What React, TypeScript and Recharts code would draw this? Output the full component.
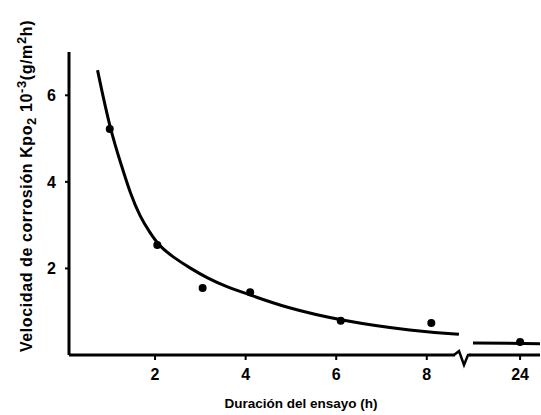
import { ComposedChart, Line, Scatter, XAxis, YAxis, ReferenceDot, Label } from "recharts";

// fitted curve (hours, 10^-3 g/m2h)
const curveHours = [0.73, 1.0, 1.27, 1.45, 1.67, 1.89, 2.09, 2.4, 2.77, 3.15, 3.59, 4.1, 4.84, 6.11, 7.73, 8.71];
const curveRate = [6.58, 5.24, 4.34, 3.74, 3.19, 2.82, 2.52, 2.26, 2.01, 1.78, 1.57, 1.39, 1.11, 0.79, 0.55, 0.48];

// curve piece after the axis break
const tailHours = [13.6, 28.4];
const tailRate = [0.28, 0.26];

// measured points
const measHours = [1.0, 2.05, 3.05, 4.1, 6.1, 8.1, 24];
const measRate = [5.22, 2.54, 1.55, 1.45, 0.79, 0.74, 0.3];

const xTickHours = [2, 4, 6, 8, 24];
const yTicks = [2, 4, 6];

// broken x axis: linear up to the break, then compressed around 24 h
const BREAK_AT = 8.8;
const pos = (h: number) => (h <= BREAK_AT ? h : 10.06 + (h - 24) * 0.1);

const curve = curveHours.map((h, i) => ({ x: pos(h), y: curveRate[i] }));
const tail = tailHours.map((h, i) => ({ x: pos(h), y: tailRate[i] }));
const points = measHours.map((h, i) => ({ x: pos(h), y: measRate[i] }));
const xTicks = xTickHours.map(pos);

const FONT = "'Liberation Sans', Arial, sans-serif";
const tickStyle = { fontSize: 16, fontWeight: 700, fill: "#000", fontFamily: FONT };

function BreakMark(props: any) {
  const { cx, cy } = props;
  return (
    <g>
      <rect x={cx - 8} y={cy - 3} width={14} height={6} fill="#fff" />
      <path
        d={`M${cx - 9},${cy} L${cx - 4},${cy - 4} L${cx + 1},${cy + 10} L${cx + 5},${cy} L${cx + 8},${cy}`}
        fill="none"
        stroke="#000"
        strokeWidth={2.5}
        strokeLinejoin="miter"
      />
    </g>
  );
}

const yTitle = () => (
  <text
    transform="translate(32,186) rotate(-90)"
    textAnchor="middle"
    fontFamily={FONT}
    fontWeight={700}
    fontSize={16}
    letterSpacing={0.6}
    fill="#000"
  >
    Velocidad de corrosión Kpo
    <tspan fontSize={13} dy={4}>2</tspan>
    <tspan dy={-4}> 10</tspan>
    <tspan fontSize={13} dy={-6}>-3</tspan>
    <tspan dy={6}>(g/m</tspan>
    <tspan fontSize={13} dy={-6}>2</tspan>
    <tspan dy={6}>h)</tspan>
  </text>
);

const xTitle = () => (
  <text x={301} y={408} textAnchor="middle" fontFamily={FONT} fontWeight={700} fontSize={13.5} fill="#000">
    Duración del ensayo (h)
  </text>
);

export default function App() {
  return (
    <div style={{ position: "absolute", left: 0, top: 0, background: "#fff" }}>
      <ComposedChart width={541} height={415} margin={{ top: 52, right: 1, bottom: 0, left: 0 }}>
        <XAxis
          type="number"
          dataKey="x"
          domain={[0.1, 10.5]}
          ticks={xTicks}
          tickFormatter={(v: number) => String(xTickHours[xTicks.indexOf(v)] ?? v)}
          height={60}
          axisLine={{ stroke: "#000", strokeWidth: 3 }}
          tickLine={{ stroke: "#000", strokeWidth: 2 }}
          tickSize={5}
          tickMargin={9}
          tick={tickStyle}
          allowDataOverflow
        >
          <Label content={xTitle} />
        </XAxis>
        <YAxis
          type="number"
          dataKey="y"
          domain={[0, 7]}
          ticks={yTicks}
          width={69}
          axisLine={{ stroke: "#000", strokeWidth: 3 }}
          tickLine={{ stroke: "#000", strokeWidth: 2 }}
          tickSize={4}
          tickMargin={9}
          tick={tickStyle}
          allowDataOverflow
        >
          <Label content={yTitle} />
        </YAxis>
        <Line
          data={curve}
          dataKey="y"
          type="basis"
          stroke="#000"
          strokeWidth={3}
          dot={false}
          activeDot={false}
          isAnimationActive={false}
        />
        <Line
          data={tail}
          dataKey="y"
          type="linear"
          stroke="#000"
          strokeWidth={3}
          dot={false}
          activeDot={false}
          isAnimationActive={false}
        />
        <Scatter data={points} dataKey="y" fill="#000" isAnimationActive={false} shape={(p: any) => <circle cx={p.cx} cy={p.cy} r={4} fill="#000" />} />
        <ReferenceDot x={BREAK_AT} y={0} ifOverflow="visible" shape={BreakMark} />
      </ComposedChart>
    </div>
  );
}
